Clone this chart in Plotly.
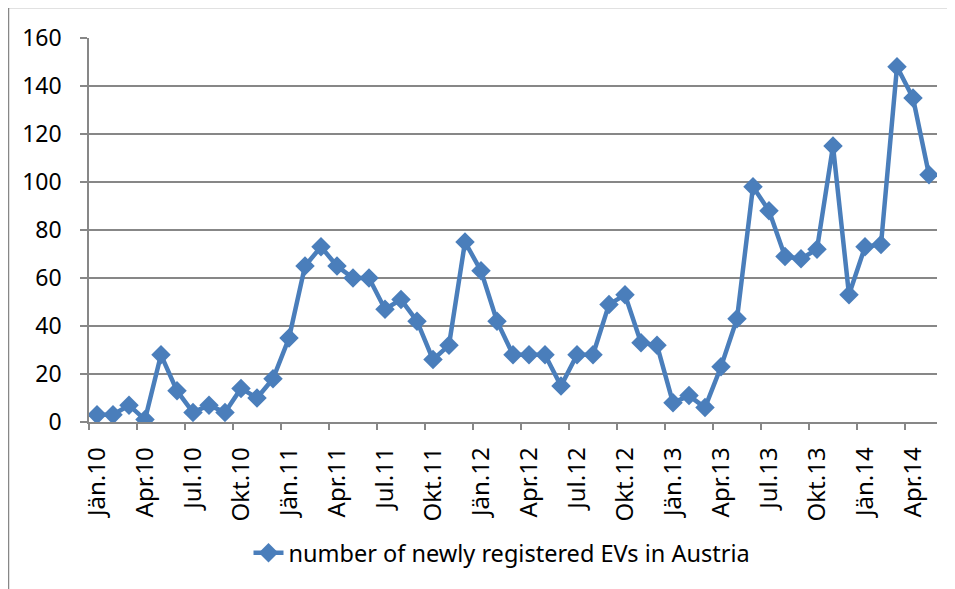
import plotly.graph_objects as go

months = ["Jän", "Feb", "Mär", "Apr", "Mai", "Jun", "Jul", "Aug", "Sep", "Okt", "Nov", "Dez"]
years = ["10", "11", "12", "13", "14"]
categories = [f"{m}.{y}" for y in years for m in months][:53]

values = [
    3, 3, 7, 1, 28, 13, 4, 7, 4, 14, 10, 18,
    35, 65, 73, 65, 60, 60, 47, 51, 42, 26, 32, 75,
    63, 42, 28, 28, 28, 15, 28, 28, 49, 53, 33, 32,
    8, 11, 6, 23, 43, 98, 88, 69, 68, 72, 115, 53,
    73, 74, 148, 135, 103,
]
series_name = "number of newly registered EVs in Austria"

y_ticks = [0, 20, 40, 60, 80, 100, 120, 140, 160]

x_idx = list(range(len(categories)))
label_idx = x_idx[::3]
label_text = [categories[i] for i in label_idx]
boundary_idx = [i - 0.5 for i in label_idx]

# page has an 8px body margin; figure sits at (8, 8) in the window
OFF = 8
W, H = 955 - OFF, 589 - OFF
L, T = 89 - OFF, 38 - OFF
pw, ph = 848, 384
R = W - L - pw
B = H - T - ph

def px_to_paper_x(px):
    return (px - OFF - L) / pw

def px_to_paper_y(py):
    return (T + ph - (py - OFF)) / ph

fig = go.Figure()
fig.add_trace(go.Scatter(
    x=x_idx, y=values, mode="lines+markers", name=series_name,
    line=dict(color="#4A7EBB", width=4.5),
    marker=dict(symbol="diamond", size=15, color="#4A7EBB"),
))

font_family = "Noto Sans, Calibri, Carlito, sans-serif"

fig.update_layout(
    width=W, height=H,
    margin=dict(l=L, r=R, t=T, b=B, pad=0),
    paper_bgcolor="white", plot_bgcolor="white",
    font=dict(family=font_family, size=23, color="black"),
    showlegend=True,
    legend=dict(orientation="h", x=px_to_paper_x(502), y=px_to_paper_y(553),
                xanchor="center", yanchor="middle",
                font=dict(size=23.5, color="black"), bgcolor="rgba(0,0,0,0)"),
    xaxis=dict(
        range=[-0.5, len(categories) - 0.5],
        tickmode="array", tickvals=label_idx, ticktext=label_text,
        tickangle=-90, ticks="", ticklabelstandoff=14,
        tickfont=dict(size=24),
        showgrid=False, zeroline=False,
        showline=True, linecolor="#878787", linewidth=1.5,
        minor=dict(tickmode="array", tickvals=boundary_idx, ticks="outside",
                   ticklen=6, tickcolor="#878787", tickwidth=1.5, showgrid=False),
        fixedrange=True,
    ),
    yaxis=dict(
        range=[0, 160], tickmode="array", tickvals=y_ticks,
        ticks="outside", ticklen=7, tickcolor="#878787", tickwidth=1.5,
        ticklabelstandoff=14,
        showgrid=True, gridcolor="#878787", gridwidth=1.5,
        zeroline=False, showline=True, linecolor="#878787", linewidth=1.5,
        fixedrange=True,
    ),
    shapes=[dict(
        type="rect", xref="paper", yref="paper",
        x0=px_to_paper_x(8.5), x1=px_to_paper_x(1000),
        y0=px_to_paper_y(700), y1=px_to_paper_y(7.5),
        line=dict(color="#878787", width=1.5), fillcolor="rgba(0,0,0,0)", layer="below",
    )],
)

fig.write_html("out.html")
